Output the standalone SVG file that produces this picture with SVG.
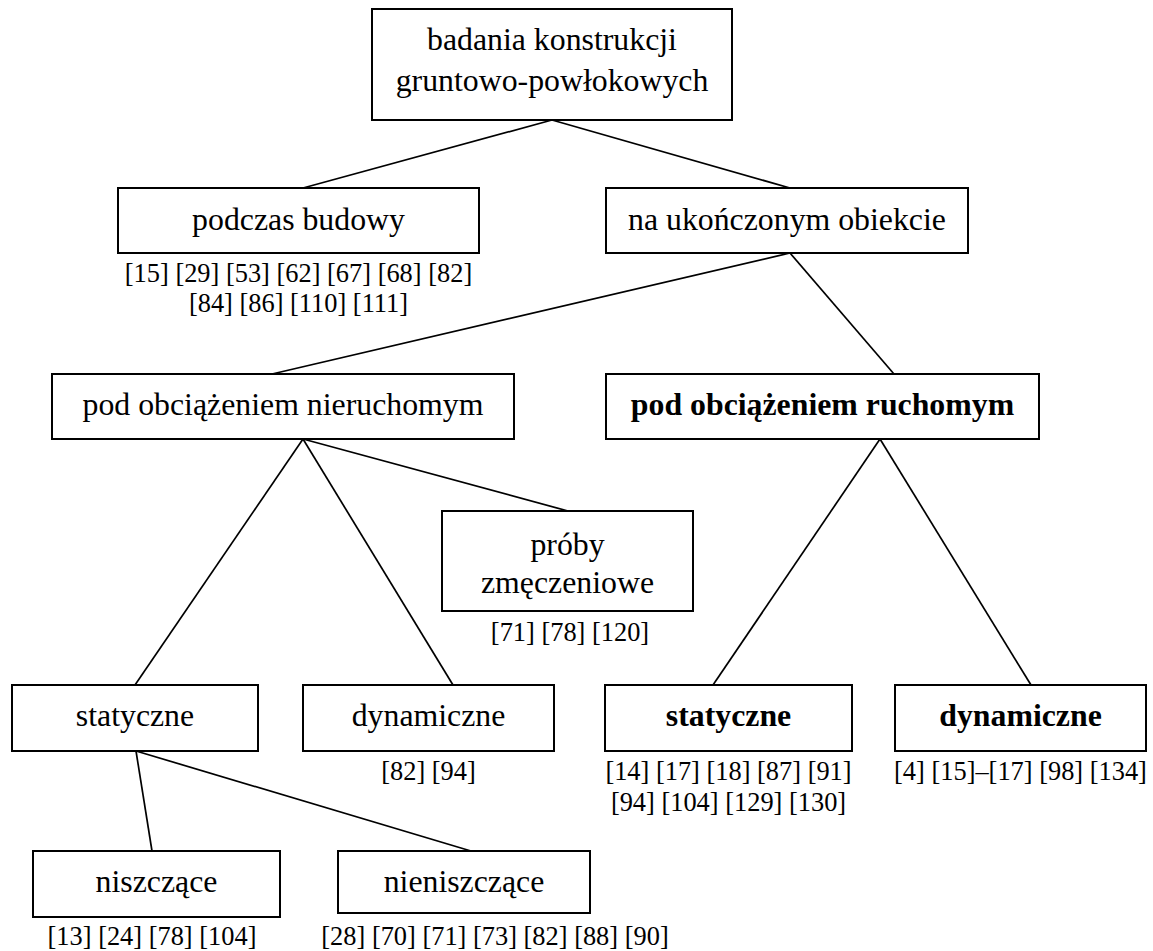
<svg xmlns="http://www.w3.org/2000/svg" width="1153" height="951" viewBox="0 0 1153 951">
<style>
.box{fill:#fff;stroke:#000;stroke-width:2}
.t{font-family:"Liberation Serif","Times New Roman",serif;font-size:31.8px;fill:#000;text-anchor:middle}
.b{font-weight:bold}
.r{font-family:"Liberation Serif","Times New Roman",serif;font-size:26.4px;fill:#000;text-anchor:middle}
#connectors line{stroke:#000;stroke-width:1.7}
</style>
<rect width="1153" height="951" fill="#fff"/>
<g id="connectors">
<line x1="552" y1="120" x2="303" y2="188"/>
<line x1="552" y1="120" x2="790" y2="188"/>
<line x1="790" y1="253" x2="272" y2="374"/>
<line x1="790" y1="253" x2="894" y2="374"/>
<line x1="303" y1="439" x2="135" y2="685"/>
<line x1="303" y1="439" x2="453" y2="685"/>
<line x1="303" y1="439" x2="568" y2="511"/>
<line x1="880" y1="439" x2="713" y2="685"/>
<line x1="880" y1="439" x2="1031" y2="685"/>
<line x1="136" y1="751" x2="152" y2="851"/>
<line x1="136" y1="751" x2="471" y2="851"/>
</g>
<g id="root">
<rect class="box" x="372" y="9" width="360" height="111"/>
<text class="t" x="552" y="50">badania konstrukcji</text>
<text class="t" x="552" y="91">gruntowo-powłokowych</text>
</g>
<g id="podczas">
<rect class="box" x="118" y="188" width="361" height="65"/>
<text class="t" x="298.5" y="230">podczas budowy</text>
<text class="r" x="298.5" y="282">[15] [29] [53] [62] [67] [68] [82]</text>
<text class="r" x="298.5" y="312">[84] [86] [110] [111]</text>
</g>
<g id="ukonczony">
<rect class="box" x="606" y="188" width="362" height="65"/>
<text class="t" x="787" y="230">na ukończonym obiekcie</text>
</g>
<g id="nieruchomym">
<rect class="box" x="52" y="374" width="462" height="65"/>
<text class="t" x="283" y="415">pod obciążeniem nieruchomym</text>
</g>
<g id="ruchomym">
<rect class="box" x="606" y="374" width="433" height="65"/>
<text class="t b" x="822.5" y="415">pod obciążeniem ruchomym</text>
</g>
<g id="proby">
<rect class="box" x="442" y="511" width="251" height="100"/>
<text class="t" x="567.5" y="555">próby</text>
<text class="t" x="567.5" y="593">zmęczeniowe</text>
<text class="r" x="570" y="641">[71] [78] [120]</text>
</g>
<g id="statyczne1">
<rect class="box" x="12" y="685" width="246" height="66"/>
<text class="t" x="135" y="726">statyczne</text>
</g>
<g id="dynamiczne1">
<rect class="box" x="303" y="685" width="251" height="66"/>
<text class="t" x="428.5" y="726">dynamiczne</text>
<text class="r" x="428.5" y="780">[82] [94]</text>
</g>
<g id="statyczne2">
<rect class="box" x="605" y="685" width="247" height="66"/>
<text class="t b" x="728.5" y="726">statyczne</text>
<text class="r" x="728.5" y="780">[14] [17] [18] [87] [91]</text>
<text class="r" x="728.5" y="811">[94] [104] [129] [130]</text>
</g>
<g id="dynamiczne2">
<rect class="box" x="895" y="685" width="251" height="66"/>
<text class="t b" x="1020.5" y="726">dynamiczne</text>
<text class="r" x="1020.5" y="780">[4] [15]–[17] [98] [134]</text>
</g>
<g id="niszczace">
<rect class="box" x="33" y="851" width="247" height="66"/>
<text class="t" x="156.5" y="892">niszczące</text>
<text class="r" x="152" y="945">[13] [24] [78] [104]</text>
</g>
<g id="nieniszczace">
<rect class="box" x="338" y="851" width="252" height="62"/>
<text class="t" x="464" y="892">nieniszczące</text>
<text class="r" x="495" y="945">[28] [70] [71] [73] [82] [88] [90]</text>
</g>
</svg>
